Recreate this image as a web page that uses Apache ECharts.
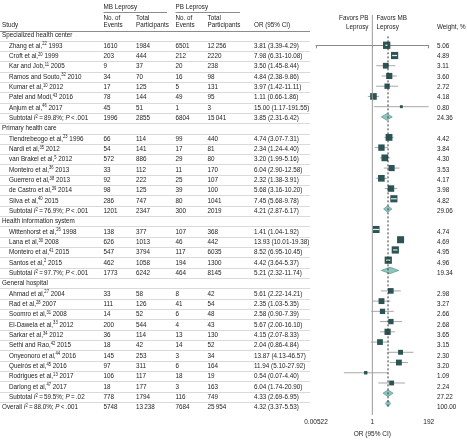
<!DOCTYPE html>
<html><head><meta charset="utf-8">
<script src="https://cdn.jsdelivr.net/npm/echarts@6/dist/echarts.min.js"></script>
<style>html,body{margin:0;padding:0;background:#fff}#c{width:467px;height:443px}</style>
</head><body><div id="c"></div>
<script>
// ---------------- DATA ----------------
const groupNames = ['Specialized health center', 'Primary health care', 'Health information system', 'General hospital'];
const groupSizes = [7, 7, 4, 10];
const authors = ['Zhang et al,', 'Croft et al,', 'Kar and Job,', 'Ramos and Souto,', 'Kumar et al,', 'Patel and Modi,', 'Anjum et al,',
  'Tiendrebeogo et al,', 'Nardi et al,', 'van Brakel et al,', 'Monteiro et al,', 'Guerrero et al,', 'de Castro et al,', 'Silva et al,',
  'Wittenhorst et al,', 'Lana et al,', 'Monteiro et al,', 'Santos et al,',
  'Ahmad et al,', 'Rad et al,', 'Soomro et al,', 'El-Dawela et al,', 'Sarkar et al,', 'Sethi and Rao,', 'Onyeonoro et al,', 'Queirós et al,', 'Rodrigues et al,', 'Darlong et al,'];
const refs = ['22', '20', '11', '32', '10', '43', '46', '23', '35', '5', '36', '38', '39', '40', '26', '30', '41', '2', '27', '28', '31', '33', '34', '42', '44', '45', '13', '47'];
const years = [1993, 1999, 2005, 2010, 2012, 2016, 2017, 1996, 2012, 2012, 2013, 2013, 2014, 2015, 1998, 2008, 2015, 2015, 2004, 2007, 2008, 2012, 2012, 2015, 2016, 2016, 2017, 2017];
const mbEvents = [1610, 203, 9, 34, 17, 78, 45, 66, 54, 572, 33, 92, 98, 286, 138, 626, 547, 462, 33, 111, 14, 200, 36, 18, 145, 97, 106, 18];
const mbTotal = [1984, 444, 37, 70, 125, 144, 51, 114, 141, 886, 112, 222, 125, 747, 377, 1013, 3794, 1058, 58, 126, 52, 544, 114, 42, 253, 311, 117, 177];
const pbEvents = [6501, 212, 20, 16, 5, 49, 1, 99, 17, 29, 11, 25, 39, 80, 107, 46, 117, 194, 8, 41, 6, 4, 13, 14, 3, 6, 18, 3];
const pbTotal = [12256, 2220, 238, 98, 131, 95, 3, 440, 81, 80, 170, 107, 100, 1041, 368, 442, 6035, 1300, 42, 54, 48, 43, 130, 52, 34, 164, 19, 163];
const orValues = [3.81, 7.98, 3.50, 4.84, 3.97, 1.11, 15.00, 4.74, 2.34, 3.20, 6.04, 2.32, 5.68, 7.45, 1.41, 13.93, 8.52, 4.42, 5.61, 2.35, 2.58, 5.67, 4.15, 2.04, 13.87, 11.94, 0.54, 6.04];
const ciLower = [3.39, 6.31, 1.45, 2.38, 1.42, 0.66, 1.17, 3.07, 1.24, 1.99, 2.90, 1.38, 3.16, 5.68, 1.04, 10.01, 6.95, 3.64, 2.22, 1.03, 0.90, 2.00, 2.07, 0.86, 4.13, 5.10, 0.07, 1.74];
const ciUpper = [4.29, 10.08, 8.44, 9.86, 11.11, 1.86, 191.55, 7.31, 4.40, 5.16, 12.58, 3.91, 10.20, 9.78, 1.92, 19.38, 10.45, 5.37, 14.21, 5.35, 7.39, 16.10, 8.33, 4.84, 46.57, 27.92, 4.40, 20.90];
const weights = [5.06, 4.89, 3.11, 3.60, 2.72, 4.18, 0.80, 4.42, 3.84, 4.30, 3.53, 4.17, 3.98, 4.82, 4.74, 4.69, 4.95, 4.96, 2.98, 3.27, 2.66, 2.68, 3.65, 3.15, 2.30, 3.20, 1.09, 2.24];
const subI2 = ['89.8', '76.9', '97.7', '59.5'];
const subP = ['<.001', '<.001', '<.001', '=.02'];
const subMbEvents = [1996, 1201, 1773, 778];
const subMbTotal = [2855, 2347, 6242, 1794];
const subPbEvents = [6804, 300, 464, 116];
const subPbTotal = [15041, 2019, 8145, 749];
const subOr = [3.85, 4.21, 5.21, 4.33];
const subLower = [2.31, 2.87, 2.32, 2.69];
const subUpper = [6.42, 6.17, 11.74, 6.95];
const subWeight = [24.36, 29.06, 19.34, 27.22];
const overallI2 = '88.0';
const overallP = '<.001';
const overallCounts = [5748, 13238, 7684, 25954];
const overallOrCi = [4.32, 3.37, 5.53];
const overallWeight = 100;
const axisTickValues = [0.00522, 1, 192];

// ---------------- LAYOUT ----------------
const F = '"Liberation Sans", Arial, sans-serif';
const FS = 7.5;
const SX = 0.84;
const TXT = '#222';
const ROW0 = 45.7, STEP = 10.33, AXIS_Y = 419;
const yMin = -ROW0 / STEP, yMax = (AXIS_Y - ROW0) / STEP;
const pxRow = px => (px - ROW0) / STEP;
const COL = {label: 2, study: 9, mbE: 103.5, mbT: 136, pbE: 175.5, pbT: 207.5, or: 254, w: 437};

function fmt(n) { return n >= 10000 ? String(n).replace(/\B(?=(\d{3})+(?!\d))/g, '\u2009') : String(n); }
function fmtOr(o, l, h) { return o.toFixed(2) + ' (' + l.toFixed(2) + '-' + h.toFixed(2) + ')'; }
function statLabel(prefix, i2, p) {
  return '{a|' + prefix + ' }{i|I}{s|2}{a|\u2009=\u2009' + i2 + '%; }{i|P}{a|\u2009' + p[0] + '\u2009' + p.slice(1) + '}';
}

// build rows
const rows = [];
let si = 0;
groupNames.forEach((g, gi) => {
  rows.push({kind: 'group', label: g});
  for (let k = 0; k < groupSizes[gi]; k++, si++) {
    rows.push({kind: 'study', label: '{a|' + authors[si] + '}{s|' + refs[si] + '}{a| ' + years[si] + '}',
      counts: [mbEvents[si], mbTotal[si], pbEvents[si], pbTotal[si]],
      or: orValues[si], lo: ciLower[si], hi: ciUpper[si], w: weights[si]});
  }
  rows.push({kind: 'sub', label: statLabel('Subtotal', subI2[gi], subP[gi]),
    counts: [subMbEvents[gi], subMbTotal[gi], subPbEvents[gi], subPbTotal[gi]],
    or: subOr[gi], lo: subLower[gi], hi: subUpper[gi], w: subWeight[gi]});
});
rows.push({kind: 'overall', label: statLabel('Overall', overallI2, overallP),
  counts: overallCounts, or: overallOrCi[0], lo: overallOrCi[1], hi: overallOrCi[2], w: overallWeight});

// texts
const texts = [];
function addT(x, y, text, align) { texts.push({x, y, text, align: align || 'left'}); }
addT(COL.mbE, pxRow(6.7), 'MB Leprosy');
addT(COL.pbE, pxRow(6.7), 'PB Leprosy');
addT(COL.mbE, pxRow(18.3), 'No. of'); addT(COL.mbE, pxRow(24.5), 'Events');
addT(COL.mbT, pxRow(18.3), 'Total'); addT(COL.mbT, pxRow(24.5), 'Participants');
addT(COL.pbE, pxRow(18.3), 'No. of'); addT(COL.pbE, pxRow(24.5), 'Events');
addT(COL.pbT, pxRow(18.3), 'Total'); addT(COL.pbT, pxRow(24.5), 'Participants');
addT(COL.label, pxRow(25), 'Study');
addT(COL.or, pxRow(25), 'OR (95% CI)');
addT(368.5, pxRow(18.3), 'Favors PB', 'right'); addT(368.5, pxRow(26.7), 'Leprosy', 'right');
addT(376.5, pxRow(18.3), 'Favors MB'); addT(376.5, pxRow(26.7), 'Leprosy');
addT(COL.w, pxRow(26.7), 'Weight, %');
rows.forEach((r, i) => {
  const y = i - 1;
  addT(r.kind === 'group' || r.kind === 'overall' ? COL.label : COL.study, y, r.label);
  if (r.counts) {
    addT(COL.mbE, y, fmt(r.counts[0])); addT(COL.mbT, y, fmt(r.counts[1]));
    addT(COL.pbE, y, fmt(r.counts[2])); addT(COL.pbT, y, fmt(r.counts[3]));
    addT(COL.or, y, fmtOr(r.or, r.lo, r.hi));
    addT(COL.w, y, r.w.toFixed(2));
  }
});

// rules: [x1, row, x2, style]
const rules = [];
rules.push([COL.mbE, pxRow(11.5), 167, 1]);
rules.push([COL.pbE, pxRow(11.5), 240, 1]);
rules.push([0, pxRow(30.7), 310, 1]);
for (let r = -1; r <= 34; r++) rules.push([0, r + 0.5, 310, 0]);

const rich = {
  a: {fontSize: FS, fontFamily: F, fill: TXT},
  i: {fontSize: FS, fontFamily: F, fill: TXT, fontStyle: 'italic'},
  s: {fontSize: 4.9, fontFamily: F, fill: TXT, padding: [0, 0, 3.5, 0]}
};

const forestData = rows.map((r, i) => r.or == null ? null :
  [Math.log10(r.or), i - 1, Math.log10(r.lo), Math.log10(r.hi), r.w, r.kind === 'study' ? 0 : 1]).filter(d => d);

const chart = echarts.init(document.getElementById('c'), null, {renderer: 'canvas'});
chart.setOption({
  animation: false,
  backgroundColor: '#fff',
  grid: [
    {left: 0, right: 0, top: 0, bottom: 443 - AXIS_Y},
    {left: 316, right: 467 - 428.7, top: 0, bottom: 443 - AXIS_Y}
  ],
  xAxis: [
    {gridIndex: 0, type: 'value', min: 0, max: 467, show: false},
    {gridIndex: 1, type: 'value', min: Math.log10(axisTickValues[0]), max: Math.log10(axisTickValues[2]),
      splitLine: {show: false},
      axisLine: {lineStyle: {color: '#8a8a8a', width: 1}},
      axisTick: {customValues: axisTickValues.map(v => Math.log10(v)), length: 3, lineStyle: {color: '#8a8a8a'}},
      axisLabel: {customValues: axisTickValues.map(v => Math.log10(v)), margin: 4, fontSize: 6.5, fontFamily: F, color: TXT,
        formatter: v => { const x = Math.pow(10, v); return x < 0.1 ? x.toPrecision(3) : String(Math.round(x)); }},
      name: 'OR (95% CI)', nameLocation: 'middle', nameGap: 12,
      nameTextStyle: {fontSize: 6.5, fontFamily: F, color: TXT}
    }
  ],
  yAxis: [
    {gridIndex: 0, type: 'value', inverse: true, min: yMin, max: yMax, show: false},
    {gridIndex: 1, type: 'value', inverse: true, min: yMin, max: yMax, show: false}
  ],
  series: [
    {
      type: 'custom', xAxisIndex: 0, yAxisIndex: 0, silent: true,
      data: rules,
      renderItem: (params, api) => {
        const a = api.coord([api.value(0), api.value(1)]);
        const b = api.coord([api.value(2), api.value(1)]);
        const strong = api.value(3) === 1;
        const y = Math.round(a[1]) + 0.5;
        return {type: 'line', shape: {x1: a[0], y1: y, x2: b[0], y2: y},
          style: {stroke: strong ? '#8c8c8c' : '#dadada', lineWidth: 1}};
      }
    },
    {
      type: 'line', xAxisIndex: 1, yAxisIndex: 1, silent: true, symbol: 'none',
      data: [[0, pxRow(15)], [0, yMax]],
      lineStyle: {color: '#9a9a9a', width: 1}
    },
    {
      type: 'line', xAxisIndex: 1, yAxisIndex: 1, silent: true, symbol: 'none',
      data: [[Math.log10(overallOrCi[0]), pxRow(36.7)], [Math.log10(overallOrCi[0]), pxRow(411)]],
      lineStyle: {color: '#333', width: 1, type: [2, 2]}
    },
    {
      type: 'custom', xAxisIndex: 1, yAxisIndex: 1, silent: true,
      data: forestData,
      renderItem: (params, api) => {
        const p = api.coord([api.value(0), api.value(1)]);
        const l = api.coord([api.value(2), api.value(1)]);
        const h = api.coord([api.value(3), api.value(1)]);
        const kind = api.value(5);
        const y = p[1];
        if (kind === 0) {
          const side = 3.25 * Math.sqrt(api.value(4));
          const inside = l[0] >= p[0] - side / 2 && h[0] <= p[0] + side / 2;
          const ch = [];
          if (!inside) ch.push({type: 'line', shape: {x1: l[0], y1: y, x2: h[0], y2: y}, style: {stroke: '#a8a8a8', lineWidth: 1}});
          ch.push({type: 'rect', shape: {x: p[0] - side / 2, y: y - side / 2, width: side, height: side}, style: {fill: '#2c5454'}});
          if (inside) ch.push({type: 'line', shape: {x1: l[0], y1: y, x2: h[0], y2: y}, style: {stroke: '#dfe8e8', lineWidth: 1.2}});
          return {type: 'group', children: ch};
        }
        return {type: 'polygon', shape: {points: [[l[0], y], [p[0], y - 3.2], [h[0], y], [p[0], y + 3.2]]},
          style: {fill: '#8fc6c0', stroke: '#5e9d97', lineWidth: 0.8}};
      }
    },
    {
      type: 'custom', xAxisIndex: 0, yAxisIndex: 0, silent: true,
      data: texts.map(t => [t.x, t.y]),
      renderItem: (params, api) => {
        const t = texts[params.dataIndex];
        const c = api.coord([api.value(0), api.value(1)]);
        return {type: 'text', x: c[0], y: c[1], scaleX: SX, scaleY: 1,
          style: {text: t.text, rich: rich, fontSize: FS, fontFamily: F, fill: TXT,
            align: t.align, verticalAlign: 'middle', textAlign: t.align, textVerticalAlign: 'middle'}};
      }
    }
  ]
});
</script>
</body></html>
